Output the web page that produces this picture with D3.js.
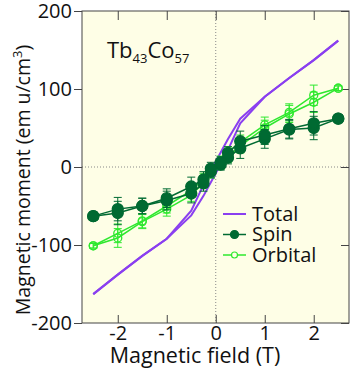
<!DOCTYPE html>
<html>
<head>
<meta charset="utf-8">
<script src="https://cdn.jsdelivr.net/npm/d3@7"></script>
<style>
  body { margin: 0; background: #fff; }
  svg { display: block; font-family: "Open Sans", sans-serif; }
</style>
</head>
<body>
<svg width="350" height="375"></svg>
<script>
// total moment curve (two field branches)
const totalField = [-2.5, -2, -1.5, -1, -0.5, -0.25, 0, 0.25, 0.5, 1, 1.5, 2, 2.5];
const totalUp = [-163, -138, -114, -92, -62, -37, -8, 22, 56, 90, 114, 137, 162];
const totalDown = [-163, -138, -114, -92, -56, -23, 7, 36, 62, 90, 114, 137, 162];

// XMCD points
const fields = [-2.5, -2, -1.5, -1, -0.5, -0.25, -0.1, 0.1, 0.25, 0.5, 1, 1.5, 2, 2.5];
const spinUp = [-63, -59, -50, -43, -34, -21, -6, 3, 12, 24, 36, 48, 50, 62];
const spinDown = [-63, -54, -50, -40, -25, -16, -2, 6, 18, 33, 41, 49, 56, 62];
const spinErr = [5, 15, 10, 12, 12, 10, 8, 7, 8, 13, 12, 12, 15, 5];
const orbitalUp = [-101, -91, -70, -54, -36, -20, -8, 3, 13, 27, 50, 68, 83, 101];
const orbitalDown = [-101, -85, -69, -50, -30, -15, -3, 8, 19, 32, 54, 70, 92, 101];
const orbitalErr = [3, 12, 9, 9, 8, 7, 6, 6, 7, 9, 10, 11, 13, 3];

const xTicks = [-2, -1, 0, 1, 2];
const yTicks = [-200, -100, 0, 100, 200];

const purple = "#8a3ff0", dark = "#006a32", bright = "#2ee82e";

let plot = { left: 82, right: 349, top: 11, bottom: 323 };
let svg = d3.select("svg");

let x = d3.scaleLinear().domain([-2.73, 2.72]).range([plot.left, plot.right]);
let y = d3.scaleLinear().domain([-200, 200]).range([plot.bottom, plot.top]);

svg.append("rect")
  .attr("x", plot.left).attr("y", plot.top)
  .attr("width", plot.right - plot.left).attr("height", plot.bottom - plot.top)
  .attr("fill", "#fefee6");

// zero lines
svg.append("line")
  .attr("x1", x(0)).attr("x2", x(0)).attr("y1", plot.top).attr("y2", plot.bottom)
  .attr("stroke", "#888").attr("stroke-dasharray", "1,2");
svg.append("line")
  .attr("x1", plot.left).attr("x2", plot.right).attr("y1", y(0)).attr("y2", y(0))
  .attr("stroke", "#888").attr("stroke-dasharray", "1,2");

// axes
const tickFont = (g) => g.selectAll("text").attr("font-size", "20px").attr("fill", "#111")
  .attr("font-family", "'Open Sans', sans-serif");
svg.append("g").attr("transform", `translate(0,${plot.bottom})`)
  .call(d3.axisTop(x).tickValues(xTicks).tickSize(8).tickFormat(""))
  .call((g) => g.select(".domain").remove());
svg.append("g").attr("transform", `translate(0,${plot.bottom})`)
  .call(d3.axisBottom(x).tickValues(xTicks).tickSize(0).tickPadding(3).tickFormat((d) => String(d)))
  .call((g) => g.select(".domain").remove())
  .call(tickFont);
svg.append("g").attr("transform", `translate(0,${plot.top})`)
  .call(d3.axisBottom(x).tickValues(xTicks).tickSize(9).tickFormat(""))
  .call((g) => g.select(".domain").remove());
svg.append("g").attr("transform", `translate(${plot.left},0)`)
  .call(d3.axisLeft(y).tickValues(yTicks).tickSize(8).tickPadding(2).tickFormat((d) => String(d)))
  .call((g) => g.select(".domain").remove())
  .call(tickFont);
svg.append("g").attr("transform", `translate(${plot.right},0)`)
  .call(d3.axisLeft(y).tickValues(yTicks).tickSize(8).tickFormat(""))
  .call((g) => g.select(".domain").remove());
svg.selectAll(".tick line").attr("stroke", "#444");

svg.append("rect")
  .attr("x", plot.left).attr("y", plot.top)
  .attr("width", plot.right - plot.left).attr("height", plot.bottom - plot.top)
  .attr("fill", "none").attr("stroke", "#444").attr("stroke-width", 1);

// total
const totalLine = d3.line().x((d) => x(d[0])).y((d) => y(d[1]));
[totalUp, totalDown].forEach((vals) => {
  svg.append("path")
    .datum(totalField.map((f, i) => [f, vals[i]]))
    .attr("d", totalLine)
    .attr("fill", "none").attr("stroke", purple).attr("stroke-width", 2);
});

function drawSeries(up, down, err, color, filled) {
  const g = svg.append("g");
  [up, down].forEach((vals) => {
    const pts = fields.map((f, i) => [f, vals[i], err[i]]);
    pts.forEach((d) => {
      g.append("line")
        .attr("x1", x(d[0])).attr("x2", x(d[0]))
        .attr("y1", y(d[1] - d[2])).attr("y2", y(d[1] + d[2]))
        .attr("stroke", color).attr("stroke-width", 1);
      [d[1] - d[2], d[1] + d[2]].forEach((v) => {
        g.append("line")
          .attr("x1", x(d[0]) - 4).attr("x2", x(d[0]) + 4)
          .attr("y1", y(v)).attr("y2", y(v))
          .attr("stroke", color).attr("stroke-width", 1);
      });
    });
    g.append("path")
      .datum(pts)
      .attr("d", totalLine)
      .attr("fill", "none").attr("stroke", color).attr("stroke-width", 1.5);
    g.selectAll(null).data(pts).enter().append("circle")
      .attr("cx", (d) => x(d[0])).attr("cy", (d) => y(d[1]))
      .attr("r", filled ? 5.5 : 4)
      .attr("fill", filled ? color : "none")
      .attr("stroke", color).attr("stroke-width", 1.3);
  });
}
drawSeries(orbitalUp, orbitalDown, orbitalErr, bright, false);
drawSeries(spinUp, spinDown, spinErr, dark, true);

// legend
const legend = [
  { name: "Total", color: purple, marker: null },
  { name: "Spin", color: dark, marker: "filled" },
  { name: "Orbital", color: bright, marker: "open" },
];
legend.forEach((d, i) => {
  const ly = 214 + i * 20.5;
  svg.append("line")
    .attr("x1", 223).attr("x2", 246).attr("y1", ly).attr("y2", ly)
    .attr("stroke", d.color).attr("stroke-width", d.marker ? 1.5 : 2);
  if (d.marker) {
    svg.append("circle").attr("cx", 234.5).attr("cy", ly)
      .attr("r", d.marker === "filled" ? 4 : 3)
      .attr("fill", d.marker === "filled" ? d.color : "#fefee6")
      .attr("stroke", d.color).attr("stroke-width", 1.2);
  }
  svg.append("text")
    .attr("x", 252).attr("y", ly + 6.5)
    .attr("font-size", "20px").attr("fill", "#111")
    .text(d.name);
});

// title
const title = svg.append("text").attr("x", 107).attr("y", 58)
  .attr("font-size", "22px").attr("fill", "#111");
title.append("tspan").text("Tb");
title.append("tspan").attr("font-size", "13px").attr("dy", 5).text("43");
title.append("tspan").attr("dy", -5).text("Co");
title.append("tspan").attr("font-size", "13px").attr("dy", 5).text("57");

// axis labels
svg.append("text")
  .attr("x", 195).attr("y", 363)
  .attr("text-anchor", "middle").attr("font-size", "21.5px").attr("fill", "#111")
  .text("Magnetic field (T)");
const yl = svg.append("text")
  .attr("transform", "translate(30,180) rotate(-90)")
  .attr("text-anchor", "middle").attr("font-size", "19.5px").attr("fill", "#111");
yl.append("tspan").text("Magnetic moment (em u/cm");
yl.append("tspan").attr("font-size", "13px").attr("dy", -8).text("3");
yl.append("tspan").attr("dy", 8).text(")");
</script>
</body>
</html>
